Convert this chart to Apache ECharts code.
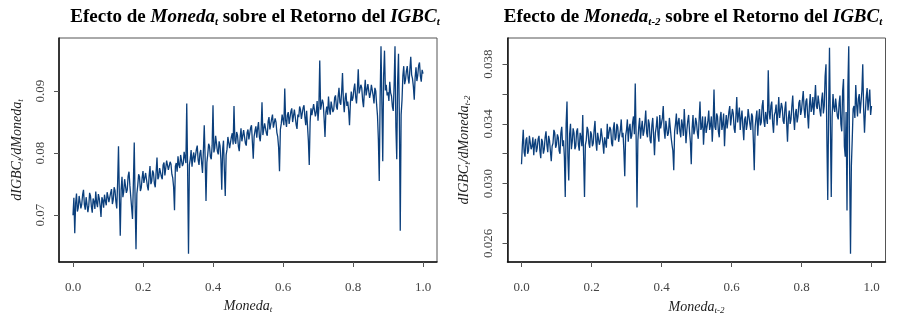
<!DOCTYPE html>
<html>
<head>
<meta charset="utf-8">
<script src="https://cdn.jsdelivr.net/npm/echarts@6/dist/echarts.min.js"></script>
<style>
  html, body { margin: 0; padding: 0; background: #fff; }
  #main { width: 903px; height: 316px; }
</style>
</head>
<body>
<div id="main"></div>
<script>
// valores (Moneda de 0 a 1, paso 0.0025)
var leftY = [
  0.0700, 0.0728, 0.0671, 0.0719, 0.0735, 0.0706, 0.0712, 0.0731, 0.0728, 0.0711, 0.0718, 0.0733, 0.0741, 0.0717, 0.0709, 0.0729, 0.0726, 0.0705, 0.0715, 0.0736,
  0.0731, 0.0714, 0.0704, 0.0727, 0.0722, 0.0710, 0.0738, 0.0720, 0.0713, 0.0734, 0.0727, 0.0715, 0.0697, 0.0729, 0.0724, 0.0712, 0.0733, 0.0723, 0.0716, 0.0737,
  0.0730, 0.0721, 0.0719, 0.0736, 0.0742, 0.0718, 0.0725, 0.0745, 0.0740, 0.0722, 0.0711, 0.0752, 0.0811, 0.0730, 0.0667, 0.0741, 0.0762, 0.0729, 0.0738, 0.0758,
  0.0755, 0.0736, 0.0741, 0.0763, 0.0770, 0.0748, 0.0730, 0.0712, 0.0694, 0.0752, 0.0817, 0.0721, 0.0645, 0.0735, 0.0748, 0.0766, 0.0762, 0.0739, 0.0744, 0.0760,
  0.0771, 0.0752, 0.0749, 0.0768, 0.0765, 0.0747, 0.0740, 0.0763, 0.0779, 0.0750, 0.0755, 0.0772, 0.0768, 0.0751, 0.0745, 0.0770, 0.0793, 0.0758, 0.0762, 0.0776,
  0.0778, 0.0762, 0.0758, 0.0781, 0.0785, 0.0764, 0.0767, 0.0788, 0.0790, 0.0773, 0.0770, 0.0786, 0.0782, 0.0766, 0.0760, 0.0745, 0.0708, 0.0779, 0.0784, 0.0770,
  0.0795, 0.0781, 0.0776, 0.0797, 0.0800, 0.0779, 0.0783, 0.0802, 0.0793, 0.0784, 0.0880, 0.0772, 0.0638, 0.0781, 0.0790, 0.0805, 0.0778, 0.0793, 0.0801, 0.0785,
  0.0788, 0.0806, 0.0812, 0.0789, 0.0781, 0.0799, 0.0805, 0.0784, 0.0768, 0.0803, 0.0845, 0.0792, 0.0723, 0.0785, 0.0798, 0.0815, 0.0811, 0.0794, 0.0790, 0.0812,
  0.0877, 0.0801, 0.0808, 0.0828, 0.0825, 0.0803, 0.0798, 0.0819, 0.0812, 0.0790, 0.0741, 0.0806, 0.0820, 0.0772, 0.0731, 0.0797, 0.0806, 0.0826, 0.0823, 0.0808,
  0.0810, 0.0826, 0.0832, 0.0814, 0.0876, 0.0820, 0.0815, 0.0834, 0.0829, 0.0811, 0.0803, 0.0825, 0.0840, 0.0819, 0.0818, 0.0837, 0.0835, 0.0816, 0.0812, 0.0833,
  0.0838, 0.0822, 0.0820, 0.0841, 0.0845, 0.0818, 0.0791, 0.0827, 0.0836, 0.0843, 0.0825, 0.0840, 0.0850, 0.0826, 0.0819, 0.0838, 0.0882, 0.0829, 0.0831, 0.0848,
  0.0845, 0.0832, 0.0828, 0.0851, 0.0858, 0.0838, 0.0835, 0.0855, 0.0862, 0.0841, 0.0839, 0.0856, 0.0850, 0.0833, 0.0826, 0.0809, 0.0771, 0.0838, 0.0847, 0.0862,
  0.0860, 0.0845, 0.0904, 0.0853, 0.0842, 0.0861, 0.0866, 0.0847, 0.0848, 0.0867, 0.0872, 0.0850, 0.0851, 0.0870, 0.0869, 0.0846, 0.0839, 0.0862, 0.0858, 0.0875,
  0.0870, 0.0855, 0.0852, 0.0873, 0.0877, 0.0858, 0.0845, 0.0868, 0.0866, 0.0820, 0.0781, 0.0850, 0.0872, 0.0861, 0.0858, 0.0879, 0.0880, 0.0859, 0.0866, 0.0884,
  0.0852, 0.0874, 0.0949, 0.0870, 0.0868, 0.0886, 0.0880, 0.0855, 0.0826, 0.0866, 0.0875, 0.0862, 0.0891, 0.0871, 0.0862, 0.0883, 0.0884, 0.0866, 0.0870, 0.0889,
  0.0893, 0.0875, 0.0870, 0.0891, 0.0905, 0.0882, 0.0878, 0.0898, 0.0929, 0.0885, 0.0866, 0.0888, 0.0897, 0.0876, 0.0883, 0.0869, 0.0845, 0.0880, 0.0899, 0.0884,
  0.0889, 0.0903, 0.0912, 0.0891, 0.0880, 0.0902, 0.0935, 0.0896, 0.0893, 0.0910, 0.0905, 0.0885, 0.0874, 0.0899, 0.0918, 0.0893, 0.0890, 0.0911, 0.0908, 0.0889,
  0.0896, 0.0910, 0.0912, 0.0893, 0.0880, 0.0905, 0.0900, 0.0878, 0.0860, 0.0822, 0.0755, 0.0890, 0.0972, 0.0880, 0.0787, 0.0925, 0.0965, 0.0901, 0.0910, 0.0893,
  0.0898, 0.0884, 0.0915, 0.0897, 0.0892, 0.0875, 0.0868, 0.0910, 0.0972, 0.0842, 0.0790, 0.0915, 0.0960, 0.0858, 0.0675, 0.0862, 0.0885, 0.0925, 0.0940, 0.0911,
  0.0918, 0.0932, 0.0940, 0.0921, 0.0912, 0.0935, 0.0955, 0.0926, 0.0920, 0.0907, 0.0886, 0.0922, 0.0938, 0.0916, 0.0925, 0.0941, 0.0946, 0.0924, 0.0915, 0.0934,
  0.0928
];

var rightY = [
  0.0313, 0.0326, 0.0336, 0.0321, 0.0318, 0.0329, 0.0331, 0.0320, 0.0322, 0.0332, 0.0333, 0.0323, 0.0325, 0.0331, 0.0319, 0.0327, 0.0330, 0.0321, 0.0324, 0.0330,
  0.0332, 0.0322, 0.0317, 0.0330, 0.0328, 0.0320, 0.0323, 0.0331, 0.0335, 0.0326, 0.0321, 0.0332, 0.0329, 0.0322, 0.0315, 0.0325, 0.0327, 0.0336, 0.0334, 0.0324,
  0.0326, 0.0333, 0.0331, 0.0322, 0.0320, 0.0334, 0.0338, 0.0325, 0.0329, 0.0318, 0.0291, 0.0340, 0.0355, 0.0318, 0.0302, 0.0333, 0.0340, 0.0323, 0.0328, 0.0337,
  0.0334, 0.0323, 0.0325, 0.0335, 0.0337, 0.0326, 0.0322, 0.0334, 0.0331, 0.0325, 0.0346, 0.0318, 0.0291, 0.0326, 0.0329, 0.0338, 0.0336, 0.0327, 0.0324, 0.0335,
  0.0333, 0.0325, 0.0327, 0.0336, 0.0342, 0.0328, 0.0322, 0.0334, 0.0335, 0.0326, 0.0329, 0.0337, 0.0338, 0.0327, 0.0320, 0.0331, 0.0332, 0.0324, 0.0340, 0.0330,
  0.0330, 0.0338, 0.0336, 0.0327, 0.0325, 0.0337, 0.0341, 0.0329, 0.0331, 0.0340, 0.0338, 0.0328, 0.0327, 0.0336, 0.0343, 0.0331, 0.0334, 0.0322, 0.0305, 0.0332,
  0.0336, 0.0343, 0.0328, 0.0337, 0.0340, 0.0330, 0.0332, 0.0341, 0.0345, 0.0333, 0.0367, 0.0331, 0.0284, 0.0329, 0.0338, 0.0344, 0.0330, 0.0337, 0.0342, 0.0332,
  0.0335, 0.0341, 0.0349, 0.0334, 0.0331, 0.0343, 0.0340, 0.0329, 0.0327, 0.0339, 0.0344, 0.0332, 0.0319, 0.0334, 0.0338, 0.0345, 0.0333, 0.0328, 0.0346, 0.0337,
  0.0337, 0.0344, 0.0352, 0.0336, 0.0330, 0.0342, 0.0341, 0.0332, 0.0334, 0.0344, 0.0345, 0.0331, 0.0326, 0.0322, 0.0309, 0.0335, 0.0340, 0.0347, 0.0333, 0.0341,
  0.0344, 0.0335, 0.0331, 0.0343, 0.0339, 0.0332, 0.0350, 0.0338, 0.0327, 0.0336, 0.0342, 0.0346, 0.0335, 0.0328, 0.0313, 0.0337, 0.0346, 0.0333, 0.0336, 0.0344,
  0.0341, 0.0334, 0.0330, 0.0343, 0.0355, 0.0336, 0.0338, 0.0345, 0.0326, 0.0337, 0.0345, 0.0334, 0.0333, 0.0342, 0.0349, 0.0336, 0.0339, 0.0345, 0.0328, 0.0340,
  0.0363, 0.0338, 0.0336, 0.0347, 0.0345, 0.0335, 0.0331, 0.0344, 0.0348, 0.0336, 0.0340, 0.0347, 0.0325, 0.0339, 0.0346, 0.0337, 0.0337, 0.0348, 0.0352, 0.0339,
  0.0339, 0.0350, 0.0347, 0.0337, 0.0334, 0.0345, 0.0358, 0.0341, 0.0342, 0.0351, 0.0336, 0.0344, 0.0349, 0.0338, 0.0329, 0.0343, 0.0345, 0.0336, 0.0340, 0.0350,
  0.0351, 0.0340, 0.0336, 0.0347, 0.0345, 0.0328, 0.0309, 0.0338, 0.0344, 0.0349, 0.0332, 0.0343, 0.0350, 0.0339, 0.0341, 0.0352, 0.0356, 0.0342, 0.0338, 0.0348,
  0.0349, 0.0340, 0.0376, 0.0348, 0.0343, 0.0352, 0.0355, 0.0341, 0.0334, 0.0346, 0.0348, 0.0353, 0.0339, 0.0347, 0.0358, 0.0344, 0.0345, 0.0354, 0.0351, 0.0342,
  0.0340, 0.0350, 0.0355, 0.0341, 0.0328, 0.0344, 0.0349, 0.0340, 0.0343, 0.0352, 0.0359, 0.0345, 0.0336, 0.0347, 0.0350, 0.0341, 0.0345, 0.0354, 0.0356, 0.0346,
  0.0349, 0.0356, 0.0362, 0.0350, 0.0344, 0.0355, 0.0357, 0.0346, 0.0337, 0.0352, 0.0360, 0.0348, 0.0351, 0.0358, 0.0346, 0.0355, 0.0366, 0.0352, 0.0350, 0.0359,
  0.0358, 0.0349, 0.0345, 0.0356, 0.0361, 0.0347, 0.0352, 0.0372, 0.0380, 0.0330, 0.0289, 0.0350, 0.0391, 0.0340, 0.0291, 0.0345, 0.0360, 0.0351, 0.0348, 0.0357,
  0.0356, 0.0345, 0.0343, 0.0354, 0.0359, 0.0340, 0.0335, 0.0362, 0.0370, 0.0325, 0.0318, 0.0348, 0.0282, 0.0365, 0.0392, 0.0310, 0.0253, 0.0312, 0.0330, 0.0350,
  0.0352, 0.0344, 0.0366, 0.0353, 0.0345, 0.0357, 0.0360, 0.0347, 0.0348, 0.0362, 0.0380, 0.0350, 0.0334, 0.0348, 0.0358, 0.0364, 0.0349, 0.0356, 0.0363, 0.0346,
  0.0352
];

var xTicks = [0, 0.2, 0.4, 0.6, 0.8, 1.0];
var leftYTicks = [0.07, 0.08, 0.09];
var rightYTicks = [0.026, 0.028, 0.030, 0.032, 0.034, 0.036, 0.038];
var rightYLabels = [0.026, 0.030, 0.034, 0.038];

var serif = 'Liberation Serif';
var lineColor = '#0b3f7c';

// rango como R: datos +- 4%
function rango(arr) {
  var mn = Math.min.apply(null, arr), mx = Math.max.apply(null, arr);
  var d = (mx - mn) * 0.04;
  return [mn - d, mx + d];
}

function titulo(sub1) {
  return {
    text: '{b|Efecto de }{bi|Moneda}{s|' + sub1 + '}{b| sobre el Retorno del }{bi|IGBC}{s|t}',
    textStyle: {
      rich: {
        b: { fontFamily: serif, fontWeight: 'bold', fontSize: 19, color: '#000', lineHeight: 22 },
        bi: { fontFamily: serif, fontWeight: 'bold', fontStyle: 'italic', fontSize: 19, color: '#000', lineHeight: 22 },
        s: { fontFamily: serif, fontWeight: 'bold', fontStyle: 'italic', fontSize: 11, color: '#000', lineHeight: 12, verticalAlign: 'bottom' }
      }
    }
  };
}

var nameRich = {
  i: { fontFamily: serif, fontStyle: 'italic', fontSize: 14, color: '#222', lineHeight: 16 },
  s: { fontFamily: serif, fontStyle: 'italic', fontSize: 9, color: '#222', lineHeight: 9, verticalAlign: 'bottom' }
};

var lr = rango(leftY), rr = rango(rightY);
var idxL = leftY.map(function (v, i) { return i; });
var idxR = rightY.map(function (v, i) { return i; });

// panel: marco con ejes (-0.04..1.04) y grid de datos (0..1)
var panels = [
  { left: 59, y: leftY, idx: idxL, r: lr, yTicks: leftYTicks, yLabels: leftYTicks, dec: 2, sub: 't', xGap: 32, yGap: 34 },
  { left: 507.5, y: rightY, idx: idxR, r: rr, yTicks: rightYTicks, yLabels: rightYLabels, dec: 3, sub: 't-2', xGap: 37, yGap: 35 }
];

var grid = [], xAxis = [], yAxis = [], series = [];
var boxW = 378, boxH = 224, boxTop = 38;
panels.forEach(function (p, k) {
  var pad = boxW * 0.04 / 1.08;
  grid.push({ left: p.left, top: boxTop, width: boxW, height: boxH, outerBoundsMode: 'none', show: true, borderColor: '#555', borderWidth: 1, backgroundColor: 'transparent' });
  grid.push({ left: p.left + pad, top: boxTop, width: boxW - 2 * pad, height: boxH, outerBoundsMode: 'none' });

  xAxis.push({
    gridIndex: 2 * k, type: 'value', min: -0.04, max: 1.04,
    name: '{i|Moneda}{s|' + p.sub + '}', nameLocation: 'middle', nameGap: p.xGap,
    nameTextStyle: { rich: nameRich },
    axisLine: { show: true, onZero: false, lineStyle: { color: '#111', width: 1.5 } },
    axisTick: { show: true, length: 5, customValues: xTicks, lineStyle: { color: '#555' } },
    axisLabel: { show: true, margin: 19, customValues: xTicks, formatter: function (v) { return v.toFixed(1); }, fontFamily: serif, fontSize: 13, color: '#444' },
    splitLine: { show: false }
  });
  xAxis.push({ gridIndex: 2 * k + 1, type: 'category', data: p.idx, boundaryGap: false, show: false });

  yAxis.push({
    gridIndex: 2 * k, type: 'value', min: p.r[0], max: p.r[1],
    name: '{i|dIGBC}{s|t}{i|/dMoneda}{s|' + p.sub + '}', nameLocation: 'middle', nameGap: p.yGap,
    nameTextStyle: { rich: nameRich },
    axisLine: { show: true, onZero: false, lineStyle: { color: '#111', width: 1.5 } },
    axisTick: { show: true, length: 5, customValues: p.yTicks, lineStyle: { color: '#555' } },
    axisLabel: { show: true, rotate: 90, margin: 12, customValues: p.yLabels, formatter: (function (d) { return function (v) { return v.toFixed(d); }; })(p.dec), fontFamily: serif, fontSize: 13, color: '#444' },
    splitLine: { show: false }
  });
  yAxis.push({ gridIndex: 2 * k + 1, type: 'value', min: p.r[0], max: p.r[1], show: false });

  series.push({
    type: 'line', xAxisIndex: 2 * k + 1, yAxisIndex: 2 * k + 1,
    data: p.y, showSymbol: false, symbol: 'none',
    lineStyle: { color: lineColor, width: 1.3 }
  });
});

var t1 = titulo('t'), t2 = titulo('t-2');
t1.left = 250; t1.top = 1; t1.textAlign = 'center';
t2.left = 688; t2.top = 1; t2.textAlign = 'center';

var myChart = echarts.init(document.getElementById('main'));
myChart.setOption({
  animation: false,
  backgroundColor: '#fff',
  title: [t1, t2],
  grid: grid,
  xAxis: xAxis,
  yAxis: yAxis,
  series: series
});
</script>
</body>
</html>
